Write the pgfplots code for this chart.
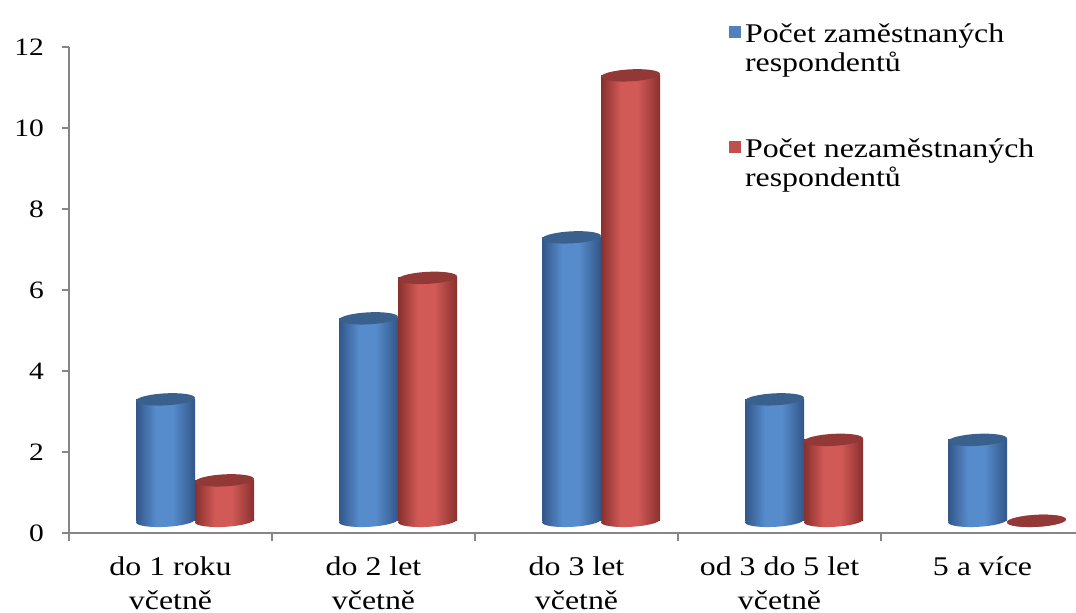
\documentclass[border=0pt]{standalone}
\usepackage{fontspec}
\setmainfont{Liberation Serif}[FakeStretch=1.18]
\usepackage{pgfplots}
\usepackage{pgfplotstable}
\pgfplotsset{compat=1.18}

\definecolor{axgray}{RGB}{134,134,134}
\definecolor{bluemain}{RGB}{79,129,189}
\definecolor{blueedge}{RGB}{50,86,136}
\definecolor{bluelight}{RGB}{86,140,204}
\definecolor{bluetop}{RGB}{58,96,142}
\definecolor{redmain}{RGB}{192,80,77}
\definecolor{rededge}{RGB}{136,48,46}
\definecolor{redlight}{RGB}{210,90,86}
\definecolor{redtop}{RGB}{146,56,54}

% cylinder side: dark edges, light middle (bbox maps to 25bp..75bp)
\pgfdeclarehorizontalshading{bluecyl}{100bp}{color(0bp)=(blueedge); color(25bp)=(blueedge);
  color(42bp)=(bluelight); color(56bp)=(bluelight); color(75bp)=(blueedge); color(100bp)=(blueedge)}
\pgfdeclarehorizontalshading{redcyl}{100bp}{color(0bp)=(rededge); color(25bp)=(rededge);
  color(42bp)=(redlight); color(56bp)=(redlight); color(75bp)=(rededge); color(100bp)=(rededge)}

% top and bottom ellipses of the cylinders
\pgfdeclareplotmark{topB}{\pgftransformshift{\pgfpoint{-14.75pt}{0pt}}\pgftransformrotate{3}%
  \pgfpathellipse{\pgfpointorigin}{\pgfpoint{14.75pt}{0pt}}{\pgfpoint{0pt}{3pt}}\pgfusepathqfill}
\pgfdeclareplotmark{topR}{\pgftransformshift{\pgfpoint{14.75pt}{0pt}}\pgftransformrotate{3}%
  \pgfpathellipse{\pgfpointorigin}{\pgfpoint{14.75pt}{0pt}}{\pgfpoint{0pt}{3pt}}\pgfusepathqfill}
\pgfdeclareplotmark{botB}{\pgftransformshift{\pgfpoint{-14.75pt}{0pt}}\pgftransformrotate{3}%
  \pgfpathellipse{\pgfpointorigin}{\pgfpoint{14.75pt}{0pt}}{\pgfpoint{0pt}{3pt}}%
  \pgfshadepath{bluecyl}{0}\pgfusepath{discard}}
\pgfdeclareplotmark{botR}{\pgftransformshift{\pgfpoint{14.75pt}{0pt}}\pgftransformrotate{3}%
  \pgfpathellipse{\pgfpointorigin}{\pgfpoint{14.75pt}{0pt}}{\pgfpoint{0pt}{3pt}}%
  \pgfshadepath{redcyl}{0}\pgfusepath{discard}}

\pgfplotstableread{
x zam nezam base
0 3 1 0
1 5 6 0
2 7 11 0
3 3 2 0
4 2 0 0
}\data

\begin{document}
\begin{tikzpicture}
\begin{axis}[
    scale only axis,
    width=507.5pt, height=243pt,
    xmin=-0.5, xmax=4.5, ymin=0, ymax=12,
    axis lines*=left,
    axis line style={axgray, line width=1pt},
    tick align=outside,
    ytick={0,2,...,12},
    ytick style={axgray, line width=1pt},
    major tick length=3.5pt,
    minor tick length=4pt,
    xtick={0,...,4},
    xticklabels={{do 1 roku\\včetně},{do 2 let\\včetně},{do 3 let\\včetně},{od 3 do 5 let\\včetně},{5 a více}},
    major x tick style={draw=none},
    minor xtick={-0.5,0.5,...,4.5},
    minor x tick style={axgray, line width=1pt},
    xticklabel style={align=center, font=\fontsize{13.5}{17}\selectfont, yshift=-5pt},
    yticklabel style={font=\fontsize{12.5}{14}\selectfont, xshift=-5.5pt},
    /pgf/number format/assume math mode=true,
    legend style={draw=none, fill=none, at={(rel axis cs:0.644,1.065)}, anchor=north west,
      font=\fontsize{13.5}{14.5}\selectfont, row sep=28pt,
      nodes={align=left}},
    legend cell align=left,
    legend image code/.code={\fill[#1] (-1.5pt,5.5pt) rectangle (4.5pt,11.5pt);},
]
\addlegendimage{fill=bluemain, draw=none}
\addlegendimage{fill=redmain, draw=none}
\legend{{Počet zaměstnaných\\respondentů},{Počet nezaměstnaných\\respondentů}}
\end{axis}
\begin{axis}[
    scale only axis, hide axis, clip=false,
    width=507.5pt, height=243pt,
    xmin=-0.6207, xmax=4.3793, ymin=-0.3, ymax=11.7,
]
% one path per bar so each cylinder gets its own shading
\pgfplotsinvokeforeach{0,...,4}{
  \addplot[only marks, mark=botB, restrict x to domain=#1:#1] table[x=x, y=base] {\data};
  \addplot[ybar, bar width=29.5pt, bar shift=-14.75pt, draw=none, shade, shading=bluecyl,
    restrict x to domain=#1:#1] table[x=x, y=zam] {\data};
  \addplot[only marks, mark=topB, mark options={fill=bluetop, draw=none},
    restrict x to domain=#1:#1] table[x=x, y=zam] {\data};
  \addplot[only marks, mark=botR, restrict x to domain=#1:#1] table[x=x, y=base] {\data};
  \addplot[ybar, bar width=29.5pt, bar shift=14.75pt, draw=none, shade, shading=redcyl,
    restrict x to domain=#1:#1] table[x=x, y=nezam] {\data};
  \addplot[only marks, mark=topR, mark options={fill=redtop, draw=none},
    restrict x to domain=#1:#1] table[x=x, y=nezam] {\data};
}
\end{axis}
\pgfresetboundingbox
\path[use as bounding box] (-34.5pt,-39.5pt) rectangle (503.5pt,266.5pt);
\end{tikzpicture}
\end{document}
